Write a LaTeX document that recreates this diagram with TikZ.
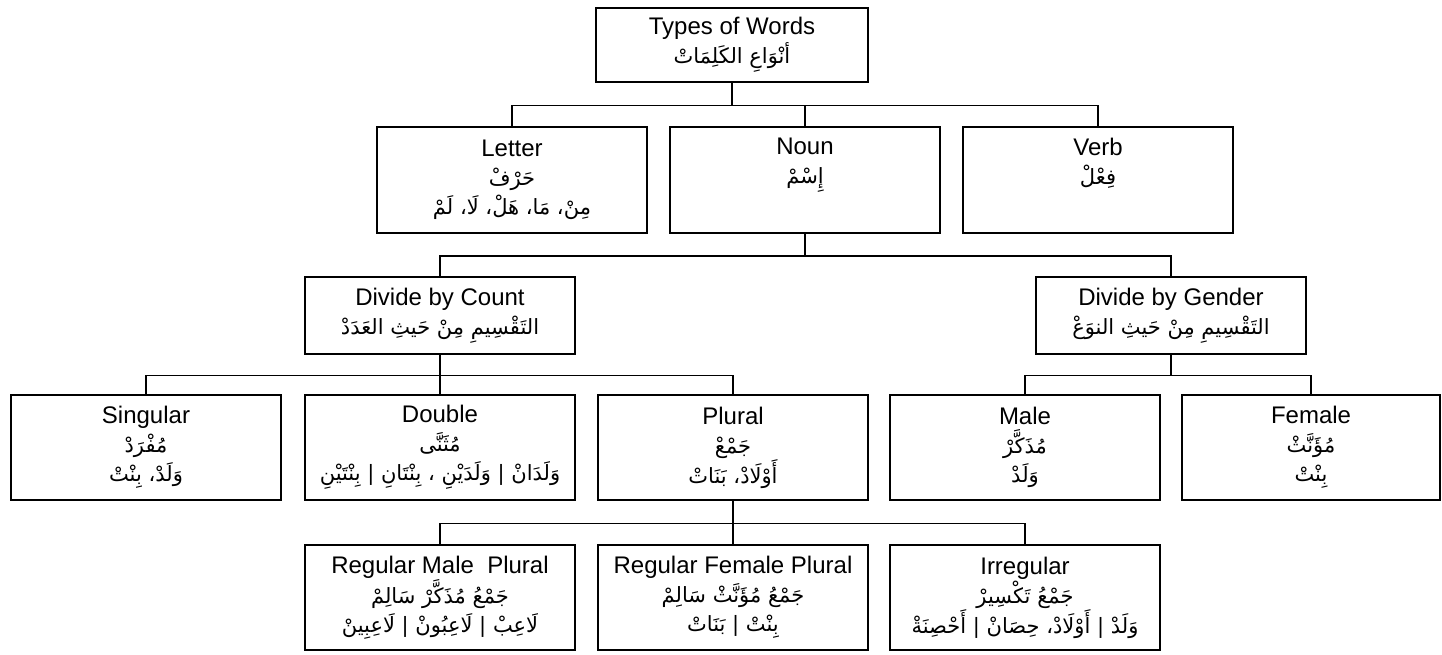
\documentclass[tikz,border=0pt]{standalone}
\usepackage{fontspec}
\setmainfont{Liberation Sans}
\newfontfamily\arabicfont[Script=Arabic]{DejaVu Sans}
\TeXXeTstate=1
\newcommand{\artext}[1]{{\arabicfont\fontsize{21}{29}\selectfont\beginR #1\endR}}

\begin{document}
\begin{tikzpicture}[x=1pt,y=-1pt,
	box/.style={draw,line width=1.7pt,minimum width=270pt,inner sep=2pt,align=center,font=\fontsize{24}{29}\selectfont},
	tallbox/.style={box,minimum height=106pt},
	shortbox/.style={box,minimum height=77pt},
	link/.style={line width=1.4pt}]
	\useasboundingbox (0,0) rectangle (1442,654);

	\node[box,minimum width=272pt,minimum height=74pt] (words) at (732,45) {Types of Words\\\artext{أنْوَاعِ الكَلِمَاتْ}};

	\node[tallbox] (letter) at (512,180) {Letter\\\artext{حَرْفْ}\\\artext{مِنْ، مَا، هَلْ، لَا، لَمْ}};
	\node[tallbox] (noun) at (805,180) {Noun\\\artext{إِسْمْ}\\\strut};
	\node[tallbox] (verb) at (1098,180) {Verb\\\artext{فِعْلْ}\\\strut};

	\node[shortbox] (count) at (440,315.5) {Divide by Count\\\artext{التَقْسِيمِ مِنْ حَيثِ العَدَدْ}};
	\node[shortbox] (gender) at (1171,315.5) {Divide by Gender\\\artext{التَقْسِيمِ مِنْ حَيثِ النوَعْ}};

	\node[tallbox,minimum height=105pt] (singular) at (146,447.5) {Singular\\\artext{مُفْرَدْ}\\\artext{وَلَدْ، بِنْتْ}};
	\node[tallbox,minimum height=105pt] (double) at (440,447.5) {Double\\\artext{مُثَنَّى}\\\artext{وَلَدَانْ | وَلَدَيْنِ ، بِنْتَانِ | بِنْتَيْنِ}};
	\node[tallbox,minimum height=105pt] (plural) at (733,447.5) {Plural\\\artext{جَمْعْ}\\\artext{أَوْلَادْ، بَنَاتْ}};
	\node[tallbox,minimum height=105pt] (male) at (1025,447.5) {Male\\\artext{مُذَكَّرْ}\\\artext{وَلَدْ}};
	\node[tallbox,minimum height=105pt,minimum width=258pt] (female) at (1311,447.5) {Female\\\artext{مُؤَنَّثْ}\\\artext{بِنْتْ}};

	\node[tallbox,minimum height=105pt] (regmale) at (440,597.5) {Regular Male\ \ Plural\\\artext{جَمْعُ مُذَكَّرْ سَالِمْ}\\\artext{لَاعِبْ | لَاعِبُونْ | لَاعِبِينْ}};
	\node[tallbox,minimum height=105pt] (regfemale) at (733,597.5) {Regular Female Plural\\\artext{جَمْعُ مُؤَنَّثْ سَالِمْ}\\\artext{بِنْتْ | بَنَاتْ}};
	\node[tallbox,minimum height=105pt] (irregular) at (1025,597.5) {Irregular\\\artext{جَمْعُ تَكْسِيرْ}\\\artext{وَلَدْ | أَوْلَادْ، حِصَانْ | أَحْصِنَةْ}};

	\draw[link] (words.south) -- ++(0,22.5) coordinate (bus1);
	\draw[link] (letter.north) |- (bus1) -| (verb.north);
	\draw[link] (noun.north) -- (noun.north |- bus1);

	\draw[link] (noun.south) -- ++(0,22) coordinate (bus2);
	\draw[link] (count.north) |- (bus2) -| (gender.north);

	\draw[link] (count.south) -- ++(0,20.5) coordinate (bus3);
	\draw[link] (singular.north) |- (bus3) -| (plural.north);
	\draw[link] (double.north) -- (double.north |- bus3);
	\draw[link] (gender.south) -- ++(0,20.5) coordinate (bus4);
	\draw[link] (male.north) |- (bus4) -| (female.north);

	\draw[link] (plural.south) -- ++(0,22.5) coordinate (bus5);
	\draw[link] (regmale.north) |- (bus5) -| (irregular.north);
	\draw[link] (regfemale.north) -- (regfemale.north |- bus5);
\end{tikzpicture}
\end{document}
